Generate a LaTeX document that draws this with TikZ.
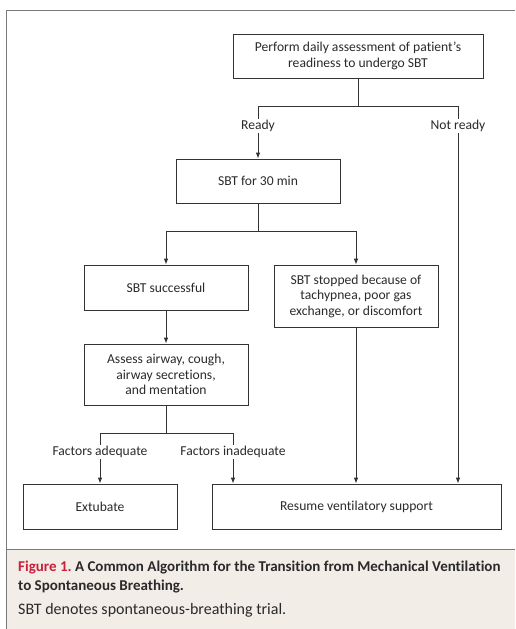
\documentclass[tikz,border=0pt]{standalone}
\usepackage{fontspec}
\setmainfont[Ligatures=CommonOff]{Carlito}
\usetikzlibrary{arrows.meta}
\definecolor{linec}{HTML}{333333}
\definecolor{framec}{HTML}{7A7A7A}
\definecolor{capbg}{HTML}{F3EDE8}
\definecolor{figred}{HTML}{C8203A}
\definecolor{txt}{HTML}{2A2A2A}
\frenchspacing
\begin{document}
\begin{tikzpicture}[x=1pt,y=-1pt,
  box/.style={draw=linec,line width=0.8pt,rectangle,align=center,inner sep=2pt,font=\fontsize{13.6}{15.5}\selectfont,text=txt},
  conn/.style={draw=linec,line width=0.8pt},
  arr/.style={conn,-{Latex[length=6pt,width=4.5pt]}},
  lbl/.style={fill=white,inner sep=1.5pt,font=\fontsize{13.6}{15.5}\selectfont,text=txt}]
\useasboundingbox (0,0) rectangle (515,629);
% frame and caption
\fill[capbg] (6,549) rectangle (515,629);
\draw[framec,line width=1pt] (6,629) -- (6,10) -- (515,10);
\draw[framec,line width=1pt] (6,549) -- (515,549);
\node[anchor=west,inner sep=0pt,font=\fontsize{15}{18}\selectfont\bfseries,text=txt] (cap1) at (18,568) {\textcolor{figred}{Figure 1.} A Common Algorithm for the Transition from Mechanical Ventilation};
\node[anchor=west,inner sep=0pt,font=\fontsize{15}{18}\selectfont\bfseries,text=txt] (cap2) at (18,587) {to Spontaneous Breathing.};
\node[anchor=west,inner sep=0pt,font=\fontsize{16}{18}\selectfont,text=txt] (cap3) at (18,610) {SBT denotes spontaneous-breathing trial.};
% boxes
\node[box,minimum width=250pt,minimum height=44pt] (top) at (358,56) {Perform daily assessment of patient's\\readiness to undergo SBT};
\node[box,minimum width=164pt,minimum height=44pt] (sbt) at (258,181) {SBT for 30 min};
\node[box,minimum width=164pt,minimum height=45pt] (succ) at (166,287.5) {SBT successful};
\node[box,minimum width=164pt,minimum height=62pt] (stop) at (356,296) {SBT stopped because of\\tachypnea, poor gas\\exchange, or discomfort};
\node[box,minimum width=164pt,minimum height=61pt] (assess) at (166,374.5) {Assess airway, cough,\\airway secretions,\\and mentation};
\node[box,minimum width=154pt,minimum height=45pt] (ext) at (100,506.5) {Extubate};
\node[box,minimum width=289pt,minimum height=45pt] (res) at (356.5,506.5) {Resume ventilatory support};
% junctions
\coordinate (j1) at (358,106);
\coordinate (j1l) at (258,106);
\coordinate (j1r) at (458,106);
\coordinate (j2) at (258,231);
\coordinate (j2l) at (166,231);
\coordinate (j2r) at (356,231);
\coordinate (j3) at (166,433);
\coordinate (j3l) at (100,433);
\coordinate (j3r) at (233,433);
% connectors
\draw[conn] (top.south) -- (j1);
\draw[conn] (j1l) -- (j1r);
\draw[arr] (j1l) -- (sbt.north);
\draw[arr] (j1r) -- (j1r |- res.north);
\node[lbl] (ready) at (258,126) {Ready};
\node[lbl] (notready) at (458,126) {Not ready};
\draw[conn] (sbt.south) -- (j2);
\draw[conn] (j2l) -- (j2r);
\draw[arr] (j2l) -- (succ.north);
\draw[arr] (j2r) -- (stop.north);
\draw[arr] (succ.south) -- (assess.north);
\draw[conn] (assess.south) -- (j3);
\draw[conn] (j3l) -- (j3r);
\draw[arr] (j3l) -- (ext.north);
\draw[arr] (j3r) -- (j3r |- res.north);
\draw[arr] (stop.south) -- (stop.south |- res.north);
\node[lbl] (fadq) at (100,452) {Factors adequate};
\node[lbl] (finadq) at (233,452) {Factors inadequate};
\end{tikzpicture}
\end{document}
